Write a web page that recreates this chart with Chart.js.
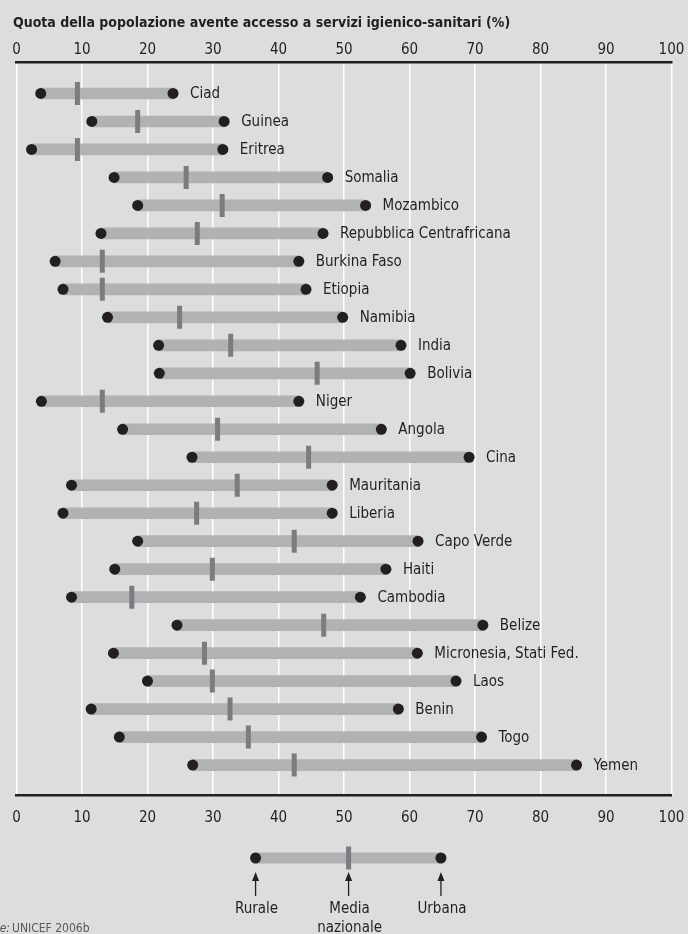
<!DOCTYPE html>
<html>
<head>
<meta charset="utf-8">
<script src="https://cdn.jsdelivr.net/npm/chart.js@4.4.1/dist/chart.umd.min.js"></script>
<style>
  html, body { margin: 0; padding: 0; background: #dcdddf; }
  #wrap { width: 688px; height: 934px; position: relative; }
</style>
</head>
<body>
<div id="wrap"><canvas id="myChart"></canvas></div>
<script>
var FONT = "'DejaVu Sans Condensed', 'Liberation Sans Narrow', sans-serif";
var INK = "#231f20";

var categories = [
  "Ciad", "Guinea", "Eritrea", "Somalia", "Mozambico", "Repubblica Centrafricana",
  "Burkina Faso", "Etiopia", "Namibia", "India", "Bolivia", "Niger", "Angola",
  "Cina", "Mauritania", "Liberia", "Capo Verde", "Haiti", "Cambodia", "Belize",
  "Micronesia, Stati Fed.", "Laos", "Benin", "Togo", "Yemen"
];
var rurale = [3.7, 11.5, 2.3, 14.9, 18.5, 12.9, 5.9, 7.1, 13.9, 21.7, 21.8, 3.8, 16.2,
  26.8, 8.4, 7.1, 18.5, 15.0, 8.4, 24.5, 14.8, 20.0, 11.4, 15.7, 26.9];
var media = [9.3, 18.5, 9.3, 25.9, 31.4, 27.6, 13.1, 13.1, 24.9, 32.7, 45.9, 13.1, 30.7,
  44.6, 33.7, 27.5, 42.4, 29.9, 17.6, 46.9, 28.7, 29.9, 32.6, 35.4, 42.4];
var urbana = [23.9, 31.7, 31.5, 47.5, 53.3, 46.8, 43.1, 44.2, 49.8, 58.7, 60.1, 43.1, 55.7,
  69.1, 48.2, 48.2, 61.3, 56.4, 52.5, 71.2, 61.2, 67.1, 58.3, 71.0, 85.5];

// x axis range (tick labels 0..100 every 10)
var xMin = 0, xMax = 100, xStep = 10;

// legend example values
var legendValues = [36.5, 50.7, 64.8];
var legendLabels = [["Rurale"], ["Media", "nazionale"], ["Urbana"]];

var title = "Quota della popolazione avente accesso a servizi igienico-sanitari (%)";

function pts(arr) {
  return arr.map(function(v, i) { return { x: v, y: i }; });
}

// let the end tick labels hang over the plot edges
function noSidePad(scale) {
  scale.paddingLeft = 0;
  scale.paddingRight = 0;
}

var extras = {
  id: "extras",
  afterDatasetsDraw: function(chart) {
    var ctx = chart.ctx;
    var xs = chart.scales.x, ys = chart.scales.y;
    ctx.save();
    // country labels
    ctx.fillStyle = INK;
    ctx.font = "15px " + FONT;
    ctx.textBaseline = "middle";
    ctx.textAlign = "left";
    categories.forEach(function(c, i) {
      ctx.fillText(c, xs.getPixelForValue(urbana[i]) + 17, ys.getPixelForValue(i) + 1);
    });
    // title
    ctx.font = "bold 14px " + FONT;
    ctx.fillText(title, 13, 23);

    // legend example
    var ly = 858;
    var lx = legendValues.map(function(v) { return xs.getPixelForValue(v); });
    ctx.fillStyle = "#b1b2b4";
    ctx.fillRect(lx[0], ly - 5.5, lx[2] - lx[0], 11);
    ctx.strokeStyle = "#7b7c7e";
    ctx.lineWidth = 5;
    ctx.beginPath();
    ctx.moveTo(lx[1], ly - 11.5);
    ctx.lineTo(lx[1], ly + 11.5);
    ctx.stroke();
    ctx.fillStyle = INK;
    [lx[0], lx[2]].forEach(function(x) {
      ctx.beginPath();
      ctx.arc(x, ly, 5.5, 0, Math.PI * 2);
      ctx.fill();
    });
    // arrows + labels
    ctx.strokeStyle = INK;
    ctx.lineWidth = 1.3;
    ctx.font = "15px " + FONT;
    ctx.textAlign = "center";
    lx.forEach(function(x, k) {
      ctx.beginPath();
      ctx.moveTo(x, 878);
      ctx.lineTo(x, 896);
      ctx.stroke();
      ctx.beginPath();
      ctx.moveTo(x, 872);
      ctx.lineTo(x - 3.5, 881);
      ctx.lineTo(x + 3.5, 881);
      ctx.closePath();
      ctx.fill();
      legendLabels[k].forEach(function(t, j) {
        ctx.fillText(t, x + 1, 909 + j * 19);
      });
    });

    // source
    ctx.fillStyle = "#58595b";
    ctx.textAlign = "right";
    ctx.font = "italic 12px " + FONT;
    ctx.fillText("Fonte:", 10, 929);
    ctx.textAlign = "left";
    ctx.font = "12px " + FONT;
    ctx.fillText("UNICEF 2006b", 12, 929);
    ctx.restore();
  }
};

var ctx = document.getElementById("myChart").getContext("2d");
new Chart(ctx, {
  type: "bar",
  data: {
    datasets: [
      {
        type: "scatter",
        label: "Rurale",
        data: pts(rurale),
        pointRadius: 5.5,
        pointBackgroundColor: INK,
        pointBorderWidth: 0,
        order: 1
      },
      {
        type: "scatter",
        label: "Urbana",
        data: pts(urbana),
        pointRadius: 5.5,
        pointBackgroundColor: INK,
        pointBorderWidth: 0,
        order: 1
      },
      {
        type: "scatter",
        label: "Media nazionale",
        data: pts(media),
        pointStyle: "line",
        rotation: 90,
        pointRadius: 11.5,
        borderColor: "#7b7c7e",
        pointBorderColor: "#7b7c7e",
        pointBorderWidth: 5,
        order: 2
      },
      {
        type: "bar",
        label: "Intervallo",
        data: categories.map(function(c, i) { return { y: i, x: [rurale[i], urbana[i]] }; }),
        backgroundColor: "#b1b2b4",
        barThickness: 11,
        order: 3
      }
    ]
  },
  options: {
    indexAxis: "y",
    responsive: true,
    maintainAspectRatio: false,
    animation: false,
    events: [],
    layout: { padding: { left: 15, right: 14, top: 38, bottom: 93 } },
    plugins: { legend: { display: false }, tooltip: { enabled: false }, title: { display: false } },
    scales: {
      x: {
        type: "linear",
        position: "top",
        min: xMin, max: xMax,
        afterFit: noSidePad,
        grid: { color: "#ffffff", lineWidth: 1.5, drawTicks: false },
        border: { display: true, color: INK, width: 2.5 },
        ticks: { stepSize: xStep, padding: 3, color: INK, font: { family: FONT, size: 15 } }
      },
      x2: {
        type: "linear",
        position: "bottom",
        min: xMin, max: xMax,
        afterFit: noSidePad,
        grid: { display: false, drawTicks: false },
        border: { display: true, color: INK, width: 2.5 },
        ticks: { stepSize: xStep, padding: 14, color: INK, font: { family: FONT, size: 15 } }
      },
      y: {
        type: "linear",
        offset: false,
        grid: { offset: false },
        min: -1.125, max: 25.07,
        reverse: true,
        display: false
      }
    }
  },
  plugins: [extras]
});
</script>
</body>
</html>
